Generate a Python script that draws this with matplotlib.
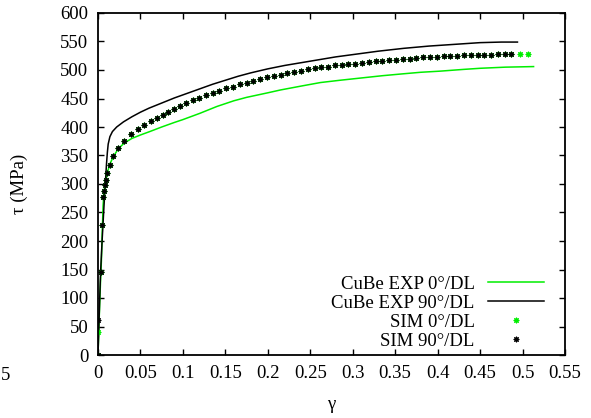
import numpy as np
import matplotlib
matplotlib.use("Agg")
import matplotlib.pyplot as plt

plt.rcParams['font.family'] = ['Liberation Serif', 'DejaVu Serif']

# EXP curves (gamma, tau in MPa)
g_exp0 = [0, 0.001, 0.002, 0.003, 0.004, 0.005, 0.006, 0.007, 0.009, 0.011, 0.014,
          0.018, 0.024, 0.031, 0.040, 0.050, 0.061, 0.075, 0.090, 0.100, 0.120, 0.140,
          0.160, 0.175, 0.200, 0.215, 0.240, 0.262, 0.285, 0.310, 0.335, 0.357, 0.380,
          0.403, 0.430, 0.450, 0.480, 0.513]
t_exp0 = [0, 45, 90, 130, 165, 215, 262, 285, 305, 320, 335,
          348, 362, 372, 380, 386, 392, 400, 408, 413, 424, 436,
          446, 452, 460, 465, 472, 478, 482, 486, 490, 493, 496,
          498, 501, 503, 505, 506]

g_exp90 = [0, 0.001, 0.002, 0.003, 0.005, 0.007, 0.009, 0.010, 0.011, 0.012, 0.014,
           0.017, 0.022, 0.030, 0.040, 0.050, 0.060, 0.075, 0.090, 0.105, 0.120, 0.135,
           0.150, 0.165, 0.180, 0.200, 0.220, 0.240, 0.260, 0.280, 0.300, 0.330, 0.360,
           0.390, 0.420, 0.450, 0.475, 0.494]
t_exp90 = [0, 50, 98, 144, 205, 260, 310, 335, 355, 370, 383,
           392, 400, 409, 418, 426, 433, 442, 451, 459, 467, 475,
           482, 489, 495, 502, 508, 513, 518, 523, 527, 533, 538,
           542, 545, 548, 549, 549]

# SIM points
g_sim = [0, 0.0005, 0.004, 0.005, 0.006, 0.007, 0.0086, 0.0098, 0.011, 0.014, 0.018,
         0.024, 0.031, 0.039, 0.047, 0.054, 0.062, 0.069, 0.076, 0.082, 0.089, 0.096,
         0.104, 0.112, 0.119, 0.127, 0.135, 0.143, 0.151, 0.159, 0.167, 0.175, 0.183,
         0.191, 0.199, 0.207, 0.215, 0.223, 0.231, 0.239, 0.247, 0.255, 0.263, 0.271,
         0.279, 0.287, 0.295, 0.303, 0.311, 0.319, 0.327, 0.335, 0.343, 0.351, 0.359,
         0.367, 0.375, 0.383, 0.391, 0.399, 0.407, 0.415, 0.423, 0.431, 0.439, 0.447,
         0.455, 0.463, 0.471, 0.479, 0.486]
t_sim90 = [0, 61, 146, 228, 278, 287, 298, 307, 319, 333, 349,
           364, 376, 387, 396, 403, 410, 416, 421, 426, 431, 437,
           442, 447, 451, 456, 460, 464, 468, 471, 475, 478, 481,
           484, 487, 489, 492, 494, 496, 499, 501, 503, 505, 506,
           508, 509, 510, 511, 513, 514, 515, 516, 517, 518, 519,
           520, 521, 522, 523, 523, 524, 525, 525, 526, 526, 527,
           527, 527, 528, 528, 528]
g_sim0 = g_sim + [0.497, 0.507]
t_sim0 = [0, 41] + t_sim90[2:] + [528, 528]

xticks = [0, 0.05, 0.1, 0.15, 0.2, 0.25, 0.3, 0.35, 0.4, 0.45, 0.5, 0.55]
xticklabels = ["0", "0.05", "0.1", "0.15", "0.2", "0.25", "0.3", "0.35", "0.4", "0.45", "0.5", "0.55"]
yticks = list(range(0, 601, 50))

green = '#00ee00'
star = (8, 2, 0)
fs = 13.5

fig = plt.figure(figsize=(5.91, 4.18), dpi=100)
ax = fig.add_axes([98/591, 1-355/418, (565-98)/591, (355-13)/418])

ax.plot(g_exp0, t_exp0, color=green, lw=1.1, label="CuBe EXP 0°/DL")
ax.plot(g_exp90, t_exp90, color='black', lw=1.1, label="CuBe EXP 90°/DL")
ax.plot(g_sim0, t_sim0, ls='none', marker=star, ms=4, mew=0.8, color=green, label="SIM 0°/DL")
ax.plot(g_sim, t_sim90, ls='none', marker=star, ms=4, mew=0.8, color='black', label="SIM 90°/DL")

ax.set_xlim(0, 0.55)
ax.set_ylim(0, 600)
ax.set_xticks(xticks)
ax.set_xticklabels(xticklabels)
ax.set_yticks(yticks)
ax.tick_params(direction='in', top=True, right=True, length=4, width=1, labelsize=fs, pad=7)
for s in ax.spines.values():
    s.set_linewidth(1.3)

ax.set_xlabel("γ", fontsize=fs, labelpad=10)
ax.set_ylabel("τ (MPa)", fontsize=fs, labelpad=23)

# stray label fragment at the left edge of the original figure
fig.text(0.002, 1-375/418, "5", fontsize=fs, ha='left', va='center')

ax.legend(loc='lower right', bbox_to_anchor=(544/591, 1-350/418), bbox_transform=fig.transFigure,
          frameon=False, markerfirst=False, fontsize=fs, handlelength=3.0, handletextpad=0.7,
          labelspacing=0.1, borderpad=0, borderaxespad=0, numpoints=1)

fig.savefig("out.png", dpi=100)
